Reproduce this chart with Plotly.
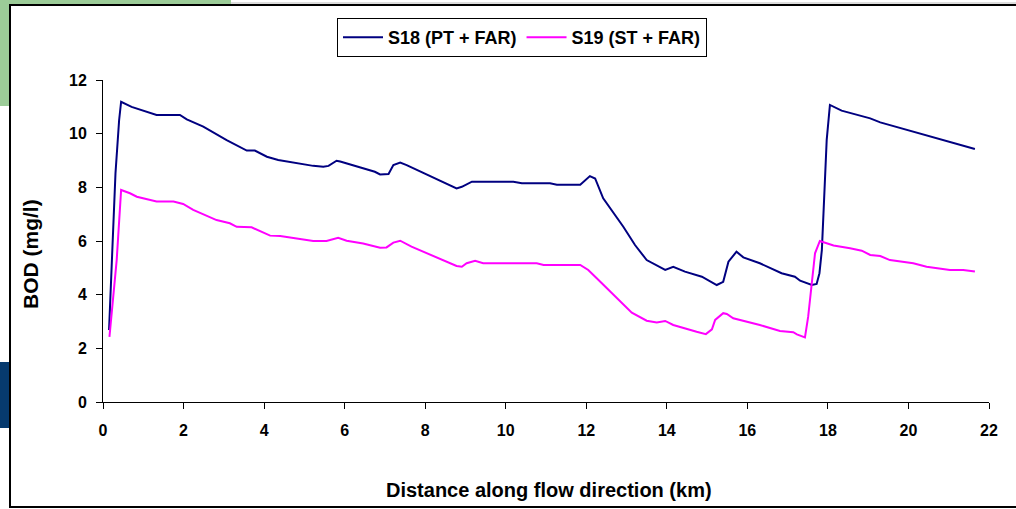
import plotly.graph_objects as go

# ---- data ----
s18_x = [0.15, 0.31, 0.40, 0.45, 0.71, 1.08, 1.33, 1.91, 2.08, 2.49, 3.07, 3.57, 3.77, 4.07, 4.35,
         5.22, 5.47, 5.60, 5.80, 5.89, 6.38, 6.75, 6.88, 7.09, 7.21, 7.38, 7.54, 8.53, 8.78, 8.91,
         9.16, 10.19, 10.40, 11.10, 11.27, 11.85, 11.97, 12.09, 12.22, 12.42, 12.92, 13.21, 13.50,
         13.96, 14.16, 14.45, 14.87, 15.24, 15.40, 15.53, 15.73, 15.90, 16.31, 16.85, 17.18, 17.31,
         17.60, 17.72, 17.79, 17.85, 17.89, 17.97, 18.05, 18.34, 19.05, 19.30, 21.65]
s18_y = [2.68, 8.52, 10.50, 11.19, 11.00, 10.82, 10.70, 10.70, 10.53, 10.26, 9.76, 9.37, 9.37, 9.14, 9.02,
         8.80, 8.77, 8.80, 8.99, 8.96, 8.74, 8.58, 8.48, 8.50, 8.83, 8.92, 8.83, 8.15, 7.96, 8.02,
         8.21, 8.21, 8.15, 8.15, 8.10, 8.10, 8.27, 8.42, 8.33, 7.59, 6.53, 5.85, 5.29,
         4.92, 5.04, 4.86, 4.67, 4.36, 4.48, 5.23, 5.60, 5.39, 5.17, 4.80, 4.67, 4.52,
         4.36, 4.40, 4.80, 5.67, 7.03, 9.77, 11.07, 10.86, 10.57, 10.42, 9.43]

s19_x = [0.16, 0.34, 0.45, 0.67, 0.84, 1.33, 1.75, 1.99, 2.24, 2.82, 3.15, 3.32, 3.69, 3.90, 4.15,
         4.40, 5.22, 5.55, 5.84, 6.05, 6.46, 6.88, 7.04, 7.21, 7.38, 7.66, 8.62, 8.78, 8.91, 9.03,
         9.24, 9.44, 10.77, 10.94, 11.85, 12.05, 12.26, 12.80, 13.13, 13.50, 13.75, 13.96, 14.16,
         14.74, 14.97, 15.12, 15.20, 15.40, 15.49, 15.65, 16.31, 16.81, 17.14, 17.23, 17.43, 17.51,
         17.60, 17.68, 17.80, 18.01, 18.14, 18.55, 18.84, 19.05, 19.30, 19.54, 20.12, 20.45, 21.03,
         21.36, 21.65]
s19_y = [2.43, 5.29, 7.90, 7.78, 7.65, 7.47, 7.47, 7.38, 7.16, 6.78, 6.66, 6.53, 6.51, 6.38, 6.20,
         6.19, 6.00, 6.00, 6.12, 6.01, 5.91, 5.75, 5.76, 5.94, 6.01, 5.79, 5.19, 5.07, 5.04, 5.17,
         5.26, 5.17, 5.17, 5.11, 5.11, 4.92, 4.61, 3.80, 3.33, 3.03, 2.96, 3.02, 2.87,
         2.62, 2.53, 2.71, 3.06, 3.31, 3.28, 3.12, 2.87, 2.65, 2.60, 2.52, 2.41, 3.18,
         4.42, 5.54, 6.00, 5.91, 5.83, 5.73, 5.64, 5.48, 5.44, 5.29, 5.17, 5.04, 4.92,
         4.92, 4.86]

x_ticks = [0, 2, 4, 6, 8, 10, 12, 14, 16, 18, 20, 22]
y_ticks = [0, 2, 4, 6, 8, 10, 12]

# ---- layout geometry (pixels) ----
W, H = 1016, 509
L, R, T, B = 103, 989, 80, 402  # plot area edges


def px(x):
    return (x - L) / (R - L)


def py(y):
    return (B - y) / (B - T)


FONT = "Arial, Liberation Sans, Helvetica, sans-serif"

fig = go.Figure()
fig.add_trace(go.Scatter(x=s18_x, y=s18_y, mode="lines", name="S18 (PT + FAR)",
                         line=dict(color="#000080", width=2)))
fig.add_trace(go.Scatter(x=s19_x, y=s19_y, mode="lines", name="S19 (ST + FAR)",
                         line=dict(color="#FF00FF", width=2)))

shapes = [
    # green decorative block at top-left
    dict(type="rect", xref="paper", yref="paper", x0=px(0), x1=px(231), y0=py(106), y1=py(0),
         fillcolor="#9ccc98", line=dict(width=0), layer="below"),
    # light grey top strip
    dict(type="rect", xref="paper", yref="paper", x0=px(231), x1=px(W + 5), y0=py(5), y1=py(2),
         fillcolor="#dcdcdc", line=dict(width=0), layer="below"),
    # navy decorative block at left
    dict(type="rect", xref="paper", yref="paper", x0=px(0), x1=px(9), y0=py(428), y1=py(362),
         fillcolor="#063a6e", line=dict(width=0), layer="below"),
    # chart border box
    dict(type="rect", xref="paper", yref="paper", x0=px(10), x1=px(W + 20), y0=py(507), y1=py(5),
         fillcolor="white", line=dict(color="black", width=2), layer="below"),
]

annotations = [
    dict(text="Distance along flow direction (km)", xref="paper", yref="paper",
         x=px(549), y=py(490), xanchor="center", yanchor="middle", showarrow=False,
         font=dict(family=FONT, size=20, color="black", weight="bold")),
    dict(text="BOD (mg/l)", xref="paper", yref="paper", textangle=-90,
         x=px(30), y=py(254), xanchor="center", yanchor="middle", showarrow=False,
         font=dict(family=FONT, size=21, color="black", weight="bold")),
]

fig.update_layout(
    width=W, height=H,
    margin=dict(l=L, r=W - R, t=T, b=H - B, autoexpand=False),
    paper_bgcolor="white",
    plot_bgcolor="rgba(0,0,0,0)",
    shapes=shapes,
    annotations=annotations,
    showlegend=True,
    legend=dict(orientation="h", x=px(522), y=py(18), xanchor="center", yanchor="top",
                bordercolor="black", borderwidth=1, bgcolor="white",
                font=dict(family=FONT, size=18, color="black", weight="bold"),
                itemwidth=40, tracegroupgap=0),
    xaxis=dict(range=[0, 22], tickvals=x_ticks, showgrid=False, zeroline=False,
               showline=True, linecolor="black", linewidth=1,
               ticks="outside", ticklen=6, tickcolor="black", tickwidth=1,
               tickfont=dict(family=FONT, size=16, color="black", weight="bold"),
               ticklabelstandoff=8),
    yaxis=dict(range=[0, 12], tickvals=y_ticks, showgrid=False, zeroline=False,
               showline=True, linecolor="black", linewidth=1,
               ticks="outside", ticklen=6, tickcolor="black", tickwidth=1,
               tickfont=dict(family=FONT, size=16, color="black", weight="bold"),
               ticklabelstandoff=6),
)

fig.write_html("out.html")
